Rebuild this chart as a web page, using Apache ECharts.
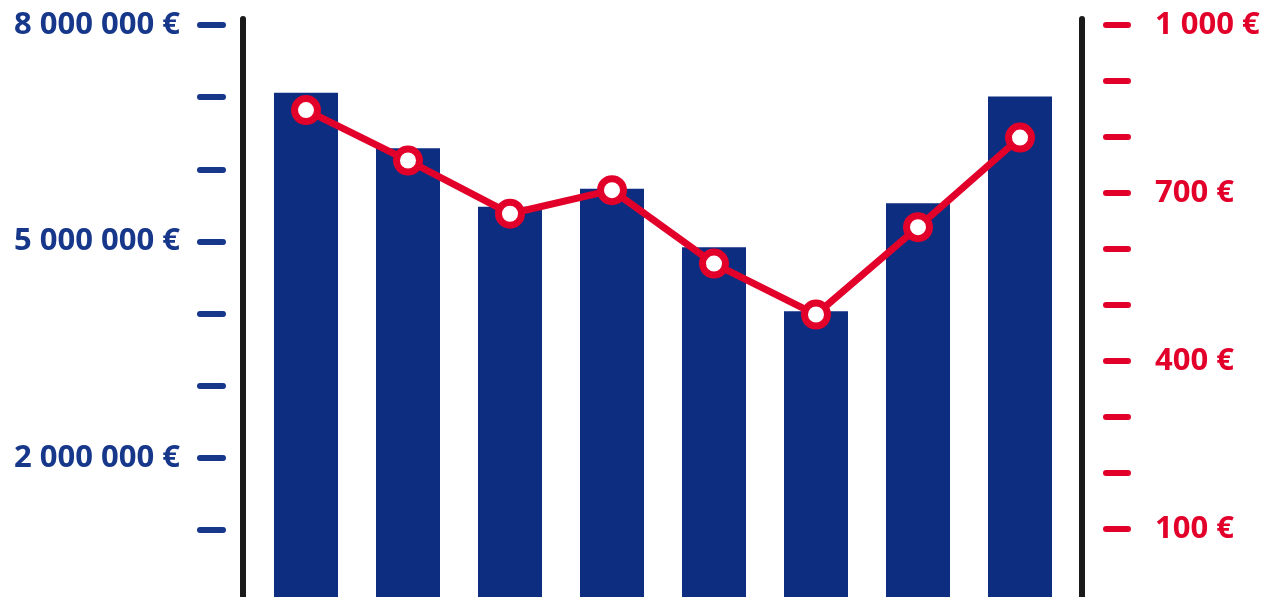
<!DOCTYPE html>
<html>
<head>
<meta charset="utf-8">
<script src="https://cdn.jsdelivr.net/npm/echarts@6/dist/echarts.min.js"></script>
<style>
html,body{margin:0;padding:0;background:#fff;}
#chart{width:1275px;height:597px;}
</style>
</head>
<body>
<div id="chart"></div>
<script>
var categories = ['1', '2', '3', '4', '5', '6', '7', '8'];
var barValues = [7060000, 6290000, 5480000, 5730000, 4920000, 4030000, 5530000, 7010000];
var lineValues = [848, 758, 663, 705, 574, 483, 639, 799];
var leftLabelValues = [2000000, 5000000, 8000000];
var rightLabelValues = [100, 400, 700, 1000];

var NAVY = '#0d2d80';
var NAVY_TXT = '#16378a';
var RED = '#e2002b';

function spaced(v) {
  return String(v).replace(/\B(?=(\d{3})+(?!\d))/g, ' ') + ' €';
}

var chart = echarts.init(document.getElementById('chart'));
var hiddenX = function (gi) {
  return {
    type: 'category', gridIndex: gi, data: categories, boundaryGap: true,
    axisLine: {show: false}, axisTick: {show: false}, axisLabel: {show: false}, splitLine: {show: false}
  };
};
chart.setOption({
  animation: false,
  grid: [
    {left: 255, width: 816, top: 25, height: 577, outerBoundsMode: 'none', containLabel: false},
    {left: 255, width: 816, top: 25, height: 504, outerBoundsMode: 'none', containLabel: false},
    {left: 255, width: 816, top: 19, height: 595, outerBoundsMode: 'none', containLabel: false}
  ],
  xAxis: [hiddenX(0), hiddenX(1), hiddenX(2)],
  yAxis: [
    {
      type: 'value', gridIndex: 0, position: 'left', offset: 32,
      min: 0, max: 8000000, interval: 1000000,
      axisLine: {show: false},
      axisTick: {show: true, length: 23, lineStyle: {color: NAVY_TXT, width: 6, cap: 'round'}},
      splitLine: {show: false},
      axisLabel: {
        margin: 43, color: NAVY_TXT, fontFamily: 'Open Sans', fontWeight: 'bold', fontSize: 31,
        formatter: function (v) { return leftLabelValues.indexOf(v) >= 0 ? spaced(v) : ''; }
      }
    },
    {
      type: 'value', gridIndex: 1, position: 'right', offset: 35,
      min: 100, max: 1000, interval: 100,
      axisLine: {show: false},
      axisTick: {show: true, length: 22, lineStyle: {color: RED, width: 6, cap: 'round'}},
      splitLine: {show: false},
      axisLabel: {
        margin: 49, color: RED, fontFamily: 'Open Sans', fontWeight: 'bold', fontSize: 31,
        formatter: function (v) { return rightLabelValues.indexOf(v) >= 0 ? spaced(v) : ''; }
      }
    },
    {
      type: 'value', gridIndex: 2, position: 'left', offset: 12, min: 0, max: 1,
      axisLine: {show: true, lineStyle: {color: '#1a1a1a', width: 6, cap: 'round'}},
      axisTick: {show: false}, axisLabel: {show: false}, splitLine: {show: false}
    },
    {
      type: 'value', gridIndex: 2, position: 'right', offset: 11, min: 0, max: 1,
      axisLine: {show: true, lineStyle: {color: '#1a1a1a', width: 6, cap: 'round'}},
      axisTick: {show: false}, axisLabel: {show: false}, splitLine: {show: false}
    }
  ],
  series: [
    {
      type: 'bar', xAxisIndex: 0, yAxisIndex: 0, data: barValues,
      barWidth: 64, itemStyle: {color: NAVY}
    },
    {
      type: 'line', xAxisIndex: 1, yAxisIndex: 1, data: lineValues,
      symbol: 'circle', symbolSize: 23, z: 5,
      lineStyle: {color: RED, width: 7},
      itemStyle: {color: '#ffffff', borderColor: RED, borderWidth: 7}
    }
  ]
});
</script>
</body>
</html>
